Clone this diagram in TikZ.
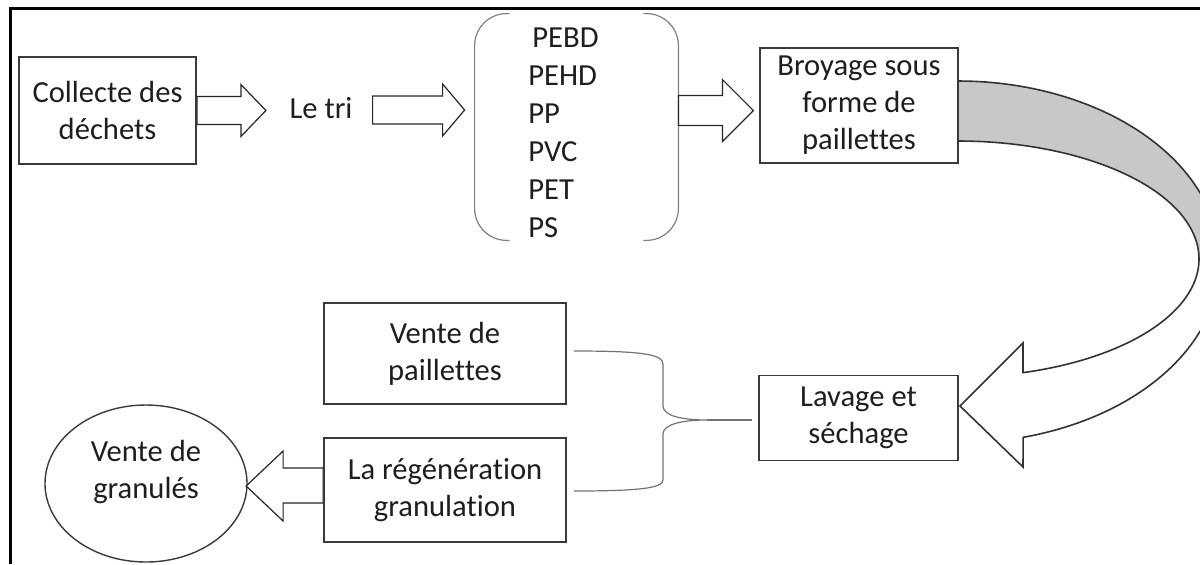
\documentclass[tikz,border=0pt]{standalone}
\usepackage{fontspec}
\setmainfont[Ligatures=NoCommon]{Carlito}
\usetikzlibrary{calc,shapes.geometric}
\definecolor{txt}{HTML}{1E1E1E}
\definecolor{boxline}{HTML}{3A3A3A}
\definecolor{band}{HTML}{C8C8C8}
\begin{document}
\begin{tikzpicture}[x=0.5pt,y=-0.5pt,
  every node/.style={font=\fontsize{15.3}{18.5}\selectfont, text=txt},
  box/.style={draw=boxline, line width=0.9pt, fill=white, align=center, inner sep=2pt},
  barrow/.style={draw=black!85, line width=0.6pt, fill=white, line join=miter},
  bracketline/.style={draw=black!50, line width=0.6pt, rounded corners=16pt},
  braceline/.style={draw=black!55, line width=0.6pt},
  curved/.style={draw=black!80, line width=0.8pt, line join=miter}]
\useasboundingbox (0,0) rectangle (1200,564);
\clip (0,0) rectangle (1200,564);

% frame (top and left edges)
\draw[line width=1.5pt, black] (10.5,564) -- (10.5,8.5) -- (1200,8.5);

% curved block arrow
\path[curved, fill=band]
  plot[domain=90:0,samples=60] ({958+262*cos(\x)},{262-181*sin(\x)})
  -- plot[domain=0:90,samples=60] ({958+241*cos(\x)},{259-118*sin(\x)}) -- cycle;
\path[curved, fill=white]
  plot[domain=0:-74.35,samples=60] ({958+241*cos(\x)},{259-118*sin(\x)})
  -- (1023,343) -- (960,406) -- (1023,467)
  -- plot[domain=-75.6:0,samples=60] ({958+262*cos(\x)},{262-181*sin(\x)}) -- cycle;

% nodes
\node[box, minimum width=88.5pt, minimum height=53.5pt] (collecte) at (107.5,110.5) {Collecte des\\déchets};
\node (letri) at (321,108.5) {Le tri};
\node[minimum width=101.5pt, minimum height=113pt, inner sep=0] (types) at (576.5,127) {};
\node[anchor=west, align=left, inner sep=0, font=\fontsize{15.3}{19}\selectfont] (list) at (528,133)
  {\hspace*{2pt}PEBD\\PEHD\\PP\\PVC\\PET\\PS};
\node[box, minimum width=99pt, minimum height=57.5pt] (broyage) at (859,105.5) {Broyage sous\\forme de\\paillettes};
\node[box, minimum width=99.5pt, minimum height=42.5pt] (lavage) at (858.5,418) {Lavage et\\séchage};
\node[box, minimum width=121pt, minimum height=50.5pt] (vente) at (445,353.5) {Vente de\\paillettes};
\node[box, minimum width=121pt, minimum height=52pt] (regen) at (445,490) {La régénération\\granulation};
\node[ellipse, draw=boxline, line width=0.7pt, minimum width=101pt, minimum height=78.5pt, inner sep=0] (granules) at (146,483.5) {};
\node[align=center] (granulestxt) at ($(granules.center)+(0,-12)$) {Vente de\\granulés};

% bracket around the list of plastics
\draw[bracketline] ($(types.north west)+(35,0)$) -| (types.south west) -- ++(35,0);
\draw[bracketline] ($(types.north east)+(-35,0)$) -| (types.south east) -- ++(-35,0);

% block arrows
\draw[barrow] ([yshift=7pt]collecte.east) -- ++(44,0) -- ++(0,-12) -- ++(25,26) -- ++(-25,26) -- ++(0,-12) -- ++(-44,0) -- cycle;
\draw[barrow] ($(types.west |- letri.center)+(-10,1.5)$) -- ++(-22,-26) -- ++(0,12) -- ++(-70,0) -- ++(0,28) -- ++(70,0) -- ++(0,12) -- cycle;
\draw[barrow] ($(types.east |- letri.center)+(0,2)$) -- ++(0,-15) -- ++(44,0) -- ++(0,-16) -- ++(31,31) -- ++(-31,31) -- ++(0,-16) -- ++(-44,0) -- cycle;
\draw[barrow] ($(regen.west)+(0,-4)$) -- ++(0,-18) -- ++(-40,0) -- ++(0,-17) -- ++(-37,35) -- ++(37,35) -- ++(0,-18) -- ++(40,0) -- cycle;

% brace connecting the two outputs to "Lavage et sechage"
\coordinate (bu) at ($(vente.east)+(7,-2.5)$);
\coordinate (bl) at ($(regen.east)+(7,1)$);
\coordinate (bt) at (707,420);
\draw[braceline] (bu) .. controls (640,351) and (663,354) .. (663,364) -- (663,406)
  .. controls (663,416) and (683,420) .. (bt)
  .. controls (683,420) and (663,424) .. (663,434) -- (663,480)
  .. controls (663,488) and (640,491) .. (bl);
\draw[braceline] (bt) -- ($(lavage.west)+(-6,2)$);
\end{tikzpicture}
\end{document}
